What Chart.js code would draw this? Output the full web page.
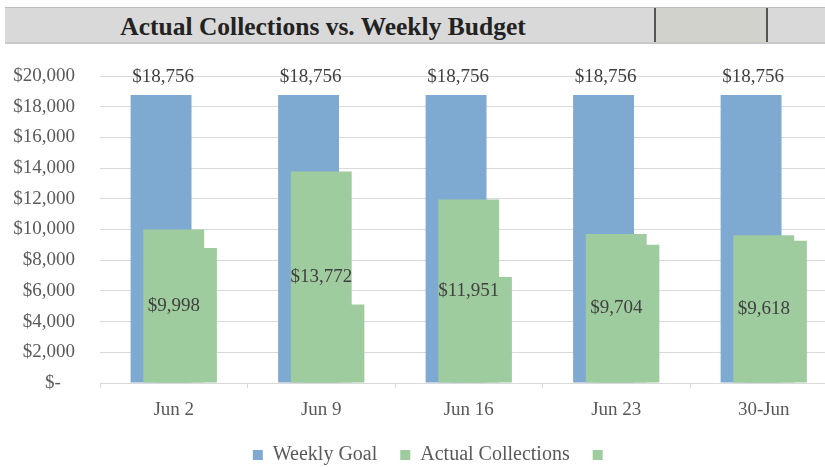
<!DOCTYPE html>
<html>
<head>
<meta charset="utf-8">
<script src="https://cdn.jsdelivr.net/npm/chart.js@4/dist/chart.umd.min.js"></script>
<style>
  html, body { margin: 0; padding: 0; background: #fff; width: 825px; height: 467px; overflow: hidden; }
  #wrap { position: absolute; left: 0; top: 0; width: 840px; height: 477px; }
  #hdr { position: absolute; left: 5px; top: 7px; width: 830px; height: 34px; background: #d9d9d9;
         border-top: 1px solid #bdbdbd; border-bottom: 2px solid #c8c8c8; z-index: 2; }
  #hdr .title { position: absolute; left: 0; width: 636px; top: 2px; height: 34px; line-height: 34px; text-align: center;
         font-family: "Liberation Serif", "Times New Roman", serif; font-weight: bold; font-size: 25.5px; color: #222; }
  #hdr .cell { position: absolute; left: 649px; top: 0; width: 110px; height: 34px; background: #d2d2cd;
         border-left: 2px solid #555; border-right: 2px solid #555; }
</style>
</head>
<body>
<div id="hdr"><div class="title">Actual Collections vs. Weekly Budget</div><div class="cell"></div></div>
<div id="wrap"><canvas id="c" width="840" height="477"></canvas></div>
<script>
const categories = ['Jun 2', 'Jun 9', 'Jun 16', 'Jun 23', '30-Jun'];
const weeklyGoal = [18756, 18756, 18756, 18756, 18756];
const actualCollections = [9998, 13772, 11951, 9704, 9618];
const thirdSeries = [8790, 5120, 6910, 9010, 9270];
const yTicks = [0, 2000, 4000, 6000, 8000, 10000, 12000, 14000, 16000, 18000, 20000];

const BLUE = '#7ea9d0';
const GREEN = '#9fcc9f';
const SERIF = 'Liberation Serif, serif';
Chart.defaults.font.family = SERIF;

function money(v) {
  if (v === 0) return '$-   ';
  return '$' + Math.round(v).toLocaleString('en-US');
}

const drawInIndexOrder = {
  id: 'drawInIndexOrder',
  beforeDatasetsDraw(chart) {
    const ctx = chart.ctx;
    const a = chart.chartArea;
    ctx.save();
    ctx.beginPath();
    ctx.rect(a.left, a.top - 30, a.right - a.left, a.bottom - a.top + 30);
    ctx.clip();
    for (let i = 0; i < chart.data.datasets.length; i++) {
      const meta = chart.getDatasetMeta(i);
      if (!meta.hidden) meta.controller.draw();
    }
    ctx.restore();
    return false;
  }
};

const shiftLegend = {
  id: 'shiftLegend',
  afterLayout(chart) {
    if (chart.legend) { chart.legend.left += 28; }
  }
};

const valueLabels = {
  id: 'valueLabels',
  afterDraw(chart) {
    const ctx = chart.ctx;
    ctx.save();
    ctx.font = '19px ' + SERIF;
    ctx.fillStyle = '#404040';
    ctx.textAlign = 'center';
    ctx.textBaseline = 'middle';
    chart.getDatasetMeta(0).data.forEach((bar, i) => {
      ctx.fillText(money(weeklyGoal[i]), bar.x + 2, bar.y - 18);
    });
    chart.getDatasetMeta(1).data.forEach((bar, i) => {
      ctx.fillText(money(actualCollections[i]), bar.x, (bar.y + bar.base) / 2);
    });
    ctx.restore();
  }
};

new Chart(document.getElementById('c'), {
  type: 'bar',
  data: {
    labels: categories,
    datasets: [
      { label: 'Weekly Goal', data: weeklyGoal, backgroundColor: BLUE },
      { label: 'Actual Collections', data: actualCollections, backgroundColor: GREEN },
      { label: '', data: thirdSeries, backgroundColor: GREEN }
    ]
  },
  options: {
    responsive: false,
    animation: false,
    events: [],
    categoryPercentage: 0.258,
    barPercentage: 4.8,
    layout: { padding: { top: 76, right: 2.5, left: 0, bottom: 2 } },
    plugins: {
      tooltip: { enabled: false },
      legend: {
        position: 'bottom',
        labels: {
          boxWidth: 10, boxHeight: 10, padding: 23,
          color: '#595959',
          font: { family: SERIF, size: 20 }
        }
      }
    },
    scales: {
      x: {
        grid: { drawOnChartArea: false, drawTicks: true, tickLength: 5, color: '#d9d9d9' },
        border: { display: false },
        ticks: { color: '#595959', font: { family: SERIF, size: 19 }, padding: 11, maxRotation: 0 },
        afterFit(s) { s.height = 39; }
      },
      y: {
        min: 0, max: 20000,
        afterBuildTicks(s) { s.ticks = yTicks.map(v => ({ value: v })); },
        grid: { color: '#d9d9d9', drawTicks: false },
        border: { display: false },
        ticks: { color: '#595959', font: { family: SERIF, size: 19 }, padding: 25, callback: v => money(v) },
        afterFit(s) { s.width = 100; }
      }
    }
  },
  plugins: [drawInIndexOrder, shiftLegend, valueLabels]
});
</script>
</body>
</html>
